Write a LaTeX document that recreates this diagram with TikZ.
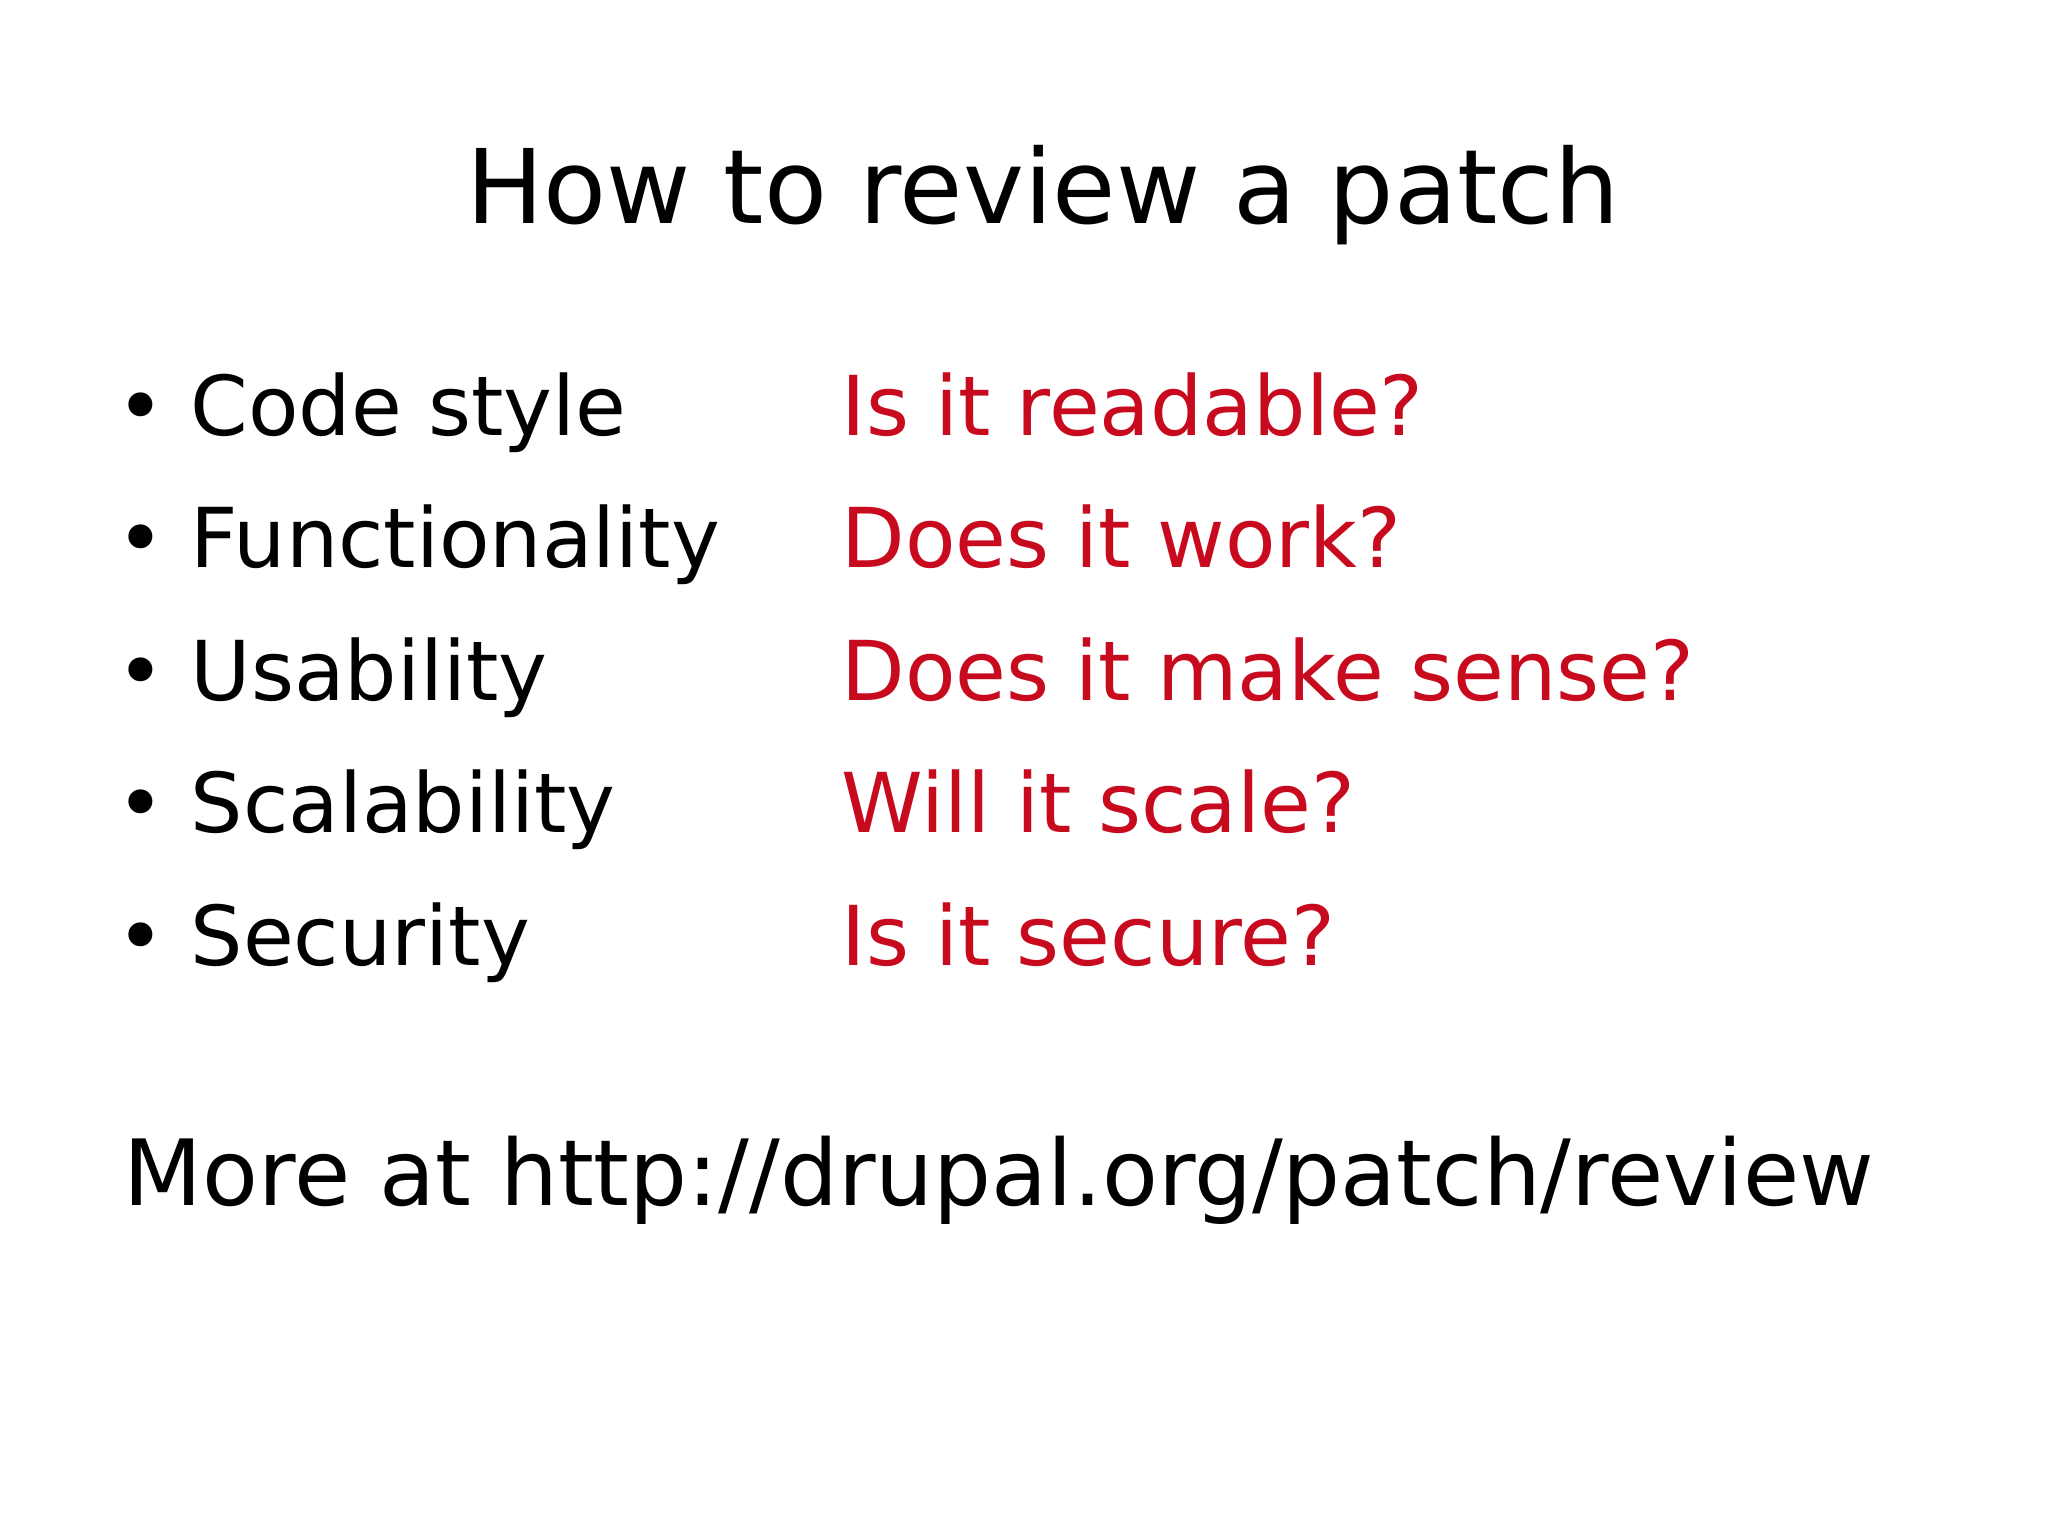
\documentclass[tikz,border=0pt]{standalone}
\usepackage{fontspec}
\setmainfont{DejaVu Sans}
\definecolor{askred}{RGB}{200,10,30}
\begin{document}
\begin{tikzpicture}[x=1cm,y=1cm,
    topic/.style={anchor=base west,inner sep=0pt,font=\fontsize{23.5}{28}\selectfont},
    question/.style={topic,text=askred}]
  % 背景与尺寸
  \useasboundingbox (0,0) rectangle (20.48,-15.35);

  % 标题
  \node[anchor=base,inner sep=0pt,font=\fontsize{29.3}{35}\selectfont] (title) at (10.43,-2.23) {How to review a patch};

  % 要点与问题
  \foreach \name/\topic/\quest [count=\i] in {
      style/Code style/Is it readable?,
      func/Functionality/Does it work?,
      usab/Usability/Does it make sense?,
      scal/Scalability/Will it scale?,
      secu/Security/Is it secure?} {
    \node[topic] (b-\name) at (1.16,-4.35-1.325*\i+1.325) {•};
    \node[topic] (t-\name) at (1.90,-4.35-1.325*\i+1.325) {\topic};
    \node[question] (q-\name) at (8.41,-4.35-1.325*\i+1.325) {\quest};
  }

  % 链接
  \node[anchor=base west,inner sep=0pt,font=\fontsize{26}{31}\selectfont] (more) at (1.23,-12.05) {More at http://drupal.org/patch/review};
\end{tikzpicture}
\end{document}
